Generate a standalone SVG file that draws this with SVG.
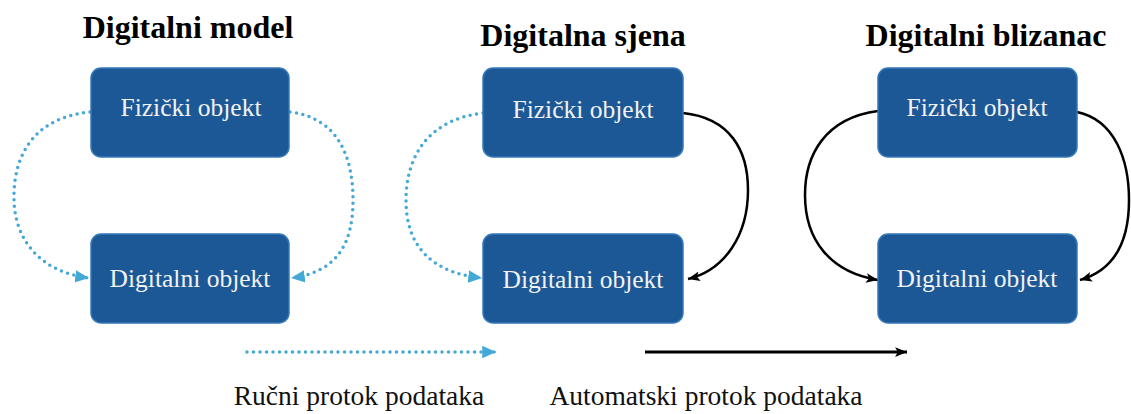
<svg xmlns="http://www.w3.org/2000/svg" width="1131" height="414" viewBox="0 0 1131 414">
<style>
.title{font-family:"Liberation Serif","Times New Roman",serif;font-weight:bold;font-size:32px;fill:#000;text-anchor:middle}
.box{fill:#1d5896;stroke:#3578b8;stroke-width:1.5}
.lbl{font-family:"Liberation Serif","Times New Roman",serif;font-size:25.5px;fill:#f2f2f2;text-anchor:middle}
.leg{font-family:"Liberation Serif","Times New Roman",serif;font-size:27.5px;fill:#111;text-anchor:middle}
.dot{fill:none;stroke:#45a9d6;stroke-width:3.5;stroke-linecap:round;stroke-dasharray:0 6.5}
.sol{fill:none;stroke:#000;stroke-width:2.5}
</style>
<defs>
<marker id="ab" markerUnits="userSpaceOnUse" markerWidth="15" markerHeight="15" viewBox="0 0 12 12" refX="11" refY="6" orient="auto">
<path d="M0,1 L11,6 L0,11 Z" fill="#45a9d6"/>
</marker>
<marker id="ak" markerUnits="userSpaceOnUse" markerWidth="13" markerHeight="13" viewBox="0 0 12 12" refX="11" refY="6" orient="auto">
<path d="M0,1.5 L11,6 L0,10.5 L2.5,6 Z" fill="#000"/>
</marker>
</defs>
<rect width="1131" height="414" fill="#fff"/>

<text class="title" x="188" y="38">Digitalni model</text>
<text class="title" x="583" y="46">Digitalna sjena</text>
<text class="title" x="986" y="46">Digitalni blizanac</text>

<g id="connectors">
<path class="dot" d="M90 112 C30 118 13 160 14 200 C15 240 40 272 89 278" marker-end="url(#ab)"/>
<path class="dot" d="M290 112 C340 118 353 160 353 200 C353 240 340 272 291 278" marker-end="url(#ab)"/>
<path class="dot" d="M483 113 C425 120 406 160 406 200 C406 240 425 272 482 278" marker-end="url(#ab)"/>
<path class="sol" d="M683 113 C730 118 748 150 748 190 C748 235 725 270 688 279" marker-end="url(#ak)"/>
<path class="sol" d="M878 111 C825 118 805 155 805 195 C805 240 830 272 878 280" marker-end="url(#ak)"/>
<path class="sol" d="M1077 112 C1115 120 1129 160 1129 200 C1129 240 1115 270 1080 280" marker-end="url(#ak)"/>
<path class="dot" d="M247 352 L496 352" marker-end="url(#ab)"/>
<path class="sol" style="stroke-width:3" d="M645 352 L907 352" marker-end="url(#ak)"/>
</g>

<g id="n1-phys"><rect class="box" x="91" y="68" width="198" height="89" rx="10"/><text class="lbl" x="191" y="116">Fizički objekt</text></g>
<g id="n1-dig"><rect class="box" x="91" y="234" width="198" height="89" rx="10"/><text class="lbl" x="190" y="287">Digitalni objekt</text></g>
<g id="n2-phys"><rect class="box" x="483" y="68" width="200" height="89" rx="10"/><text class="lbl" x="583" y="118">Fizički objekt</text></g>
<g id="n2-dig"><rect class="box" x="483" y="234" width="200" height="89" rx="10"/><text class="lbl" x="583" y="288">Digitalni objekt</text></g>
<g id="n3-phys"><rect class="box" x="878" y="68" width="199" height="89" rx="10"/><text class="lbl" x="977" y="116">Fizički objekt</text></g>
<g id="n3-dig"><rect class="box" x="878" y="234" width="199" height="89" rx="10"/><text class="lbl" x="977" y="287">Digitalni objekt</text></g>

<text class="leg" x="359" y="405">Ručni protok podataka</text>
<text class="leg" x="706" y="405">Automatski protok podataka</text>
</svg>
